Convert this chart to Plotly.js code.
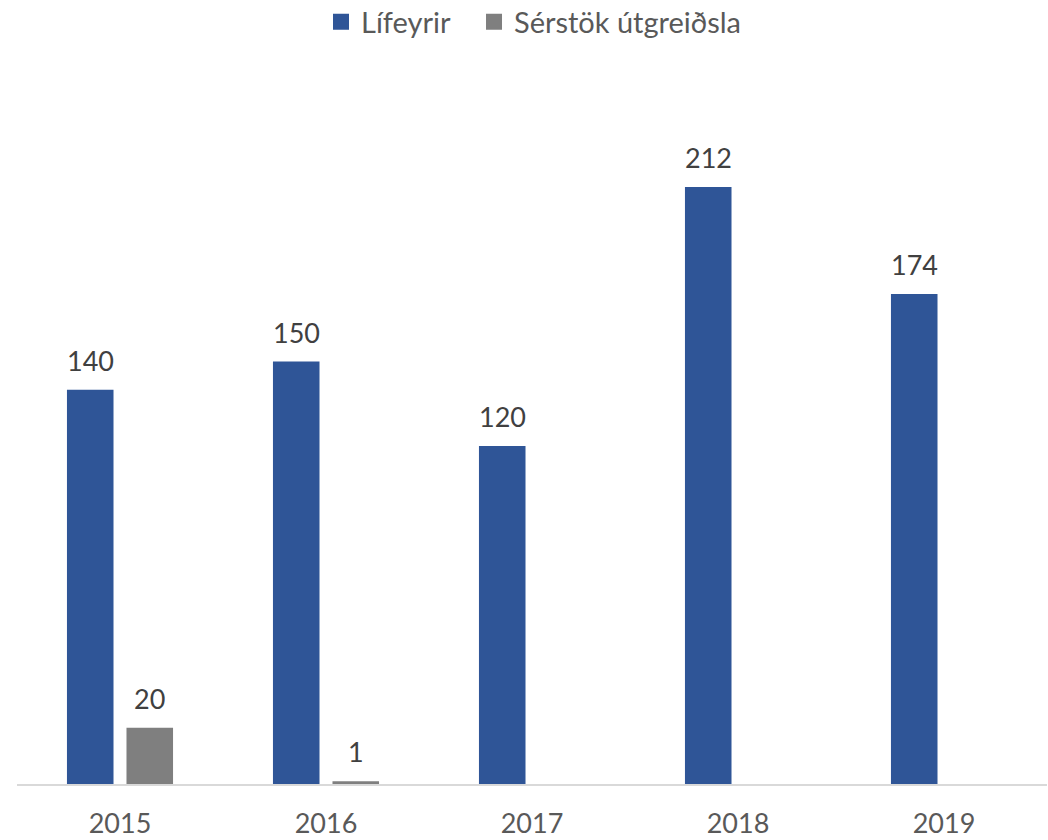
<!DOCTYPE html>
<html>
<head>
<meta charset="utf-8">
<script src="https://cdn.plot.ly/plotly-3.0.1.min.js"></script>
<style>html,body{margin:0;padding:0;background:#fff;}#chart{width:1048px;height:840px;}</style>
</head>
<body>
<div id="chart"></div>
<script>
const categories = ['2015', '2016', '2017', '2018', '2019'];
const seriesNames = ['Lífeyrir', 'Sérstök útgreiðsla'];
const lifeyrir = [140, 150, 120, 212, 174];
const serstok = [20, 1, null, null, null];

const colors = ['#2F5597', '#7F7F7F'];
const font = 'Lato, "Open Sans", sans-serif';
const fs = 27;

const bars = [lifeyrir, serstok].map((vals, i) => ({
  type: 'bar', x: categories, y: vals, name: seriesNames[i],
  marker: {color: colors[i]}, showlegend: false, hoverinfo: 'skip'
}));
const legendIds = ['legend', 'legend2'];
const legendItems = seriesNames.map((n, i) => ({
  type: 'scatter', mode: 'markers', x: categories, y: categories.map(() => null), name: n,
  legend: legendIds[i],
  marker: {symbol: 'square', size: 16, color: colors[i]}, showlegend: true, hoverinfo: 'skip'
}));

const offsets = [-29.75, 29.75];
const annotations = [];
[lifeyrir, serstok].forEach((vals, i) => {
  vals.forEach((v, j) => {
    if (v === null) return;
    annotations.push({
      x: j, y: v, xref: 'x', yref: 'y', text: String(v),
      showarrow: false, xanchor: 'center', yanchor: 'bottom',
      xshift: offsets[i], yshift: 11,
      font: {family: font, size: fs, color: '#404040'}
    });
  });
});

const legendBase = {orientation: 'h', xref: 'container', xanchor: 'left', yref: 'container', y: 0.974, yanchor: 'middle',
  font: {family: font, size: 29, color: '#595959'}, itemclick: false, bgcolor: 'rgba(0,0,0,0)'};

const layout = {
  width: 1048, height: 840,
  margin: {l: 17, r: 1, t: 80, b: 56},
  paper_bgcolor: '#fff', plot_bgcolor: '#fff',
  barmode: 'group', bargap: 0.422, bargroupgap: 0.218,
  font: {family: font, size: fs, color: '#595959'},
  showlegend: true,
  legend: Object.assign({}, legendBase, {x: 0.3063}),
  legend2: Object.assign({}, legendBase, {x: 0.4523}),
  xaxis: {type: 'category', categoryorder: 'array', categoryarray: categories, range: [-0.5, 4.5],
          showline: true, linecolor: '#D9D9D9', linewidth: 2,
          ticks: '', showgrid: false, zeroline: false, ticklabelstandoff: 15,
          tickfont: {family: font, size: fs, color: '#595959'}},
  yaxis: {visible: false, range: [0, 250], showgrid: false, zeroline: false},
  annotations: annotations
};

Plotly.newPlot('chart', bars.concat(legendItems), layout, {displayModeBar: false, staticPlot: true});
</script>
</body>
</html>
